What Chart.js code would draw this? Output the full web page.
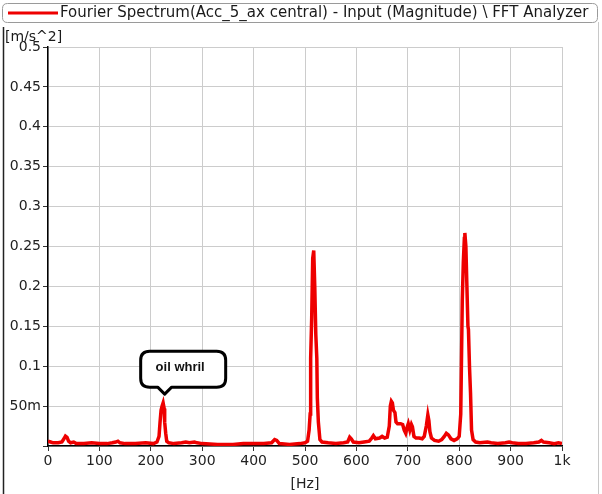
<!DOCTYPE html>
<html>
<head>
<meta charset="utf-8">
<script src="https://cdn.jsdelivr.net/npm/chart.js@4.4.1/dist/chart.umd.min.js"></script>
<style>
  html, body { margin: 0; padding: 0; background: #fff; }
  #wrap { width: 602px; height: 494px; position: relative; }
</style>
</head>
<body>
<div id="wrap"><canvas id="fft"></canvas></div>
<script>
const seriesLabel = "Fourier Spectrum(Acc_5_ax central) - Input (Magnitude) \\ FFT Analyzer";
const xTitle = "[Hz]";
const yTitle = "[m/s^2]";

// frequency [Hz] and magnitude [m/s^2]
const freqs = [
  0, 5, 10, 20, 27, 31, 34, 37, 40, 44, 50, 55, 70, 85, 100, 115, 125, 132, 136, 140,
  150, 170, 190, 205, 212, 216, 218, 220, 222, 224, 226, 227, 229, 231, 235, 245, 260, 268, 275, 285,
  290, 300, 330, 360, 380, 400, 420, 435, 441, 445, 450, 470, 490, 500, 505, 508, 510, 511, 513, 515,
  517, 519, 521, 523, 524, 526, 529, 533, 545, 560, 575, 583, 587, 590, 594, 605, 615, 625, 630, 633,
  637, 645, 650, 655, 660, 664, 666, 668, 670, 672, 675, 677, 680, 686, 690, 693, 696, 699, 701, 704,
  707, 709, 712, 716, 722, 728, 732, 736, 739, 741, 743, 746, 752, 760, 766, 771, 775, 779, 784, 790,
  796, 800, 803, 804, 806, 808, 810, 811, 813, 815, 817, 818, 820, 822, 824, 827, 832, 840, 855, 862,
  875, 890, 897, 903, 915, 930, 945, 955, 960, 964, 975, 985, 993, 1000
];
const amps = [
  0.006, 0.005, 0.004, 0.004, 0.005, 0.009, 0.0125, 0.011, 0.006, 0.004, 0.005, 0.003, 0.003, 0.004, 0.003, 0.003, 0.004, 0.005, 0.006, 0.004,
  0.003, 0.003, 0.004, 0.003, 0.005, 0.012, 0.03, 0.045, 0.05, 0.054, 0.047, 0.03, 0.016, 0.006, 0.004, 0.003, 0.004, 0.005, 0.004, 0.005,
  0.004, 0.003, 0.002, 0.002, 0.003, 0.003, 0.003, 0.004, 0.008, 0.007, 0.003, 0.002, 0.003, 0.004, 0.006, 0.02, 0.04, 0.11, 0.16, 0.235,
  0.245, 0.2, 0.14, 0.11, 0.06, 0.03, 0.008, 0.005, 0.004, 0.003, 0.004, 0.005, 0.011, 0.009, 0.005, 0.004, 0.005, 0.006, 0.01, 0.013,
  0.009, 0.01, 0.012, 0.01, 0.011, 0.025, 0.05, 0.056, 0.054, 0.045, 0.042, 0.03, 0.028, 0.028, 0.027, 0.02, 0.016, 0.024, 0.028, 0.02,
  0.027, 0.024, 0.012, 0.01, 0.01, 0.009, 0.012, 0.025, 0.039, 0.032, 0.018, 0.01, 0.007, 0.006, 0.008, 0.012, 0.016, 0.014, 0.009, 0.007,
  0.009, 0.012, 0.04, 0.087, 0.183, 0.23, 0.26, 0.267, 0.25, 0.2, 0.15, 0.146, 0.1, 0.067, 0.02, 0.008, 0.005, 0.004, 0.005, 0.004,
  0.003, 0.004, 0.005, 0.004, 0.003, 0.003, 0.004, 0.005, 0.007, 0.005, 0.004, 0.003, 0.004, 0.003
];

const xTicks = [0, 100, 200, 300, 400, 500, 600, 700, 800, 900, 1000];
const xTickLabels = ["0", "100", "200", "300", "400", "500", "600", "700", "800", "900", "1k"];
const yTicks = [0, 0.05, 0.1, 0.15, 0.2, 0.25, 0.3, 0.35, 0.4, 0.45, 0.5];
const yTickLabels = ["", "50m", "0.1", "0.15", "0.2", "0.25", "0.3", "0.35", "0.4", "0.45", "0.5"];

// callout: tip in data units
const note = { text: "oil whril", x: 227, y: 0.065 };

const FONT = "'DejaVu Sans', Verdana, sans-serif";
const RED = "#ee0000";

function tickLabel(values, labels, v) {
    const i = values.findIndex((t) => Math.abs(t - v) < 1e-9);
    return i >= 0 ? labels[i] : "";
}

function roundRect(ctx, x, y, w, h, r) {
    ctx.beginPath();
    ctx.moveTo(x + r, y);
    ctx.lineTo(x + w - r, y);
    ctx.quadraticCurveTo(x + w, y, x + w, y + r);
    ctx.lineTo(x + w, y + h - r);
    ctx.quadraticCurveTo(x + w, y + h, x + w - r, y + h);
    ctx.lineTo(x + r, y + h);
    ctx.quadraticCurveTo(x, y + h, x, y + h - r);
    ctx.lineTo(x, y + r);
    ctx.quadraticCurveTo(x, y, x + r, y);
    ctx.closePath();
}

const decorations = {
    id: "decorations",
    afterDraw(chart) {
        const ctx = chart.ctx;
        const xs = chart.scales.x;
        const ys = chart.scales.y;
        ctx.save();

        // outer frame
        ctx.strokeStyle = "#222";
        ctx.lineWidth = 1.5;
        ctx.beginPath();
        ctx.moveTo(3.5, 27);
        ctx.lineTo(3.5, 494);
        ctx.stroke();
        ctx.strokeStyle = "#c8c8c8";
        ctx.lineWidth = 1;
        ctx.beginPath();
        ctx.moveTo(598.5, 22);
        ctx.lineTo(598.5, 494);
        ctx.stroke();

        // legend
        ctx.strokeStyle = "#9a9a9a";
        ctx.lineWidth = 1;
        roundRect(ctx, 2.5, 3.5, 595, 19, 5);
        ctx.fillStyle = "#fff";
        ctx.fill();
        ctx.stroke();
        ctx.strokeStyle = RED;
        ctx.lineWidth = 3;
        ctx.beginPath();
        ctx.moveTo(8, 13);
        ctx.lineTo(58, 13);
        ctx.stroke();
        ctx.fillStyle = "#1a1a1a";
        ctx.font = "15px " + FONT;
        ctx.textBaseline = "middle";
        ctx.textAlign = "left";
        ctx.fillText(seriesLabel, 60, 13.5);

        // y axis unit
        ctx.font = "14px " + FONT;
        ctx.fillText(yTitle, 5, 37);

        // callout
        const tx = xs.getPixelForValue(note.x);
        const ty = ys.getPixelForValue(note.y);
        const bx = tx - 24, by = ty - 43, bw = 85, bh = 36;
        ctx.strokeStyle = "#000";
        ctx.lineWidth = 3;
        ctx.lineJoin = "round";
        ctx.beginPath();
        ctx.moveTo(tx - 7, by + bh);
        ctx.lineTo(bx + 9, by + bh);
        ctx.quadraticCurveTo(bx, by + bh, bx, by + bh - 9);
        ctx.lineTo(bx, by + 9);
        ctx.quadraticCurveTo(bx, by, bx + 9, by);
        ctx.lineTo(bx + bw - 9, by);
        ctx.quadraticCurveTo(bx + bw, by, bx + bw, by + 9);
        ctx.lineTo(bx + bw, by + bh - 9);
        ctx.quadraticCurveTo(bx + bw, by + bh, bx + bw - 9, by + bh);
        ctx.lineTo(tx + 7, by + bh);
        ctx.lineTo(tx, ty);
        ctx.closePath();
        ctx.fillStyle = "#fff";
        ctx.fill();
        ctx.stroke();
        ctx.fillStyle = "#111";
        ctx.font = "bold 13px 'Liberation Sans', Arial, sans-serif";
        ctx.textAlign = "center";
        ctx.fillText(note.text, bx + bw / 2 - 3, by + bh / 2 - 2);

        ctx.restore();
    },
};

new Chart(document.getElementById("fft"), {
    type: "line",
    data: {
        datasets: [
            {
                label: seriesLabel,
                data: freqs.map((f, i) => ({ x: f, y: amps[i] })),
                borderColor: RED,
                backgroundColor: RED,
                borderWidth: 3.5,
                pointRadius: 0,
                tension: 0,
                fill: false,
            },
        ],
    },
    options: {
        responsive: true,
        maintainAspectRatio: false,
        animation: false,
        layout: { padding: { left: 0, right: 40, top: 47, bottom: 0 } },
        plugins: {
            legend: { display: false },
            tooltip: { enabled: false },
        },
        scales: {
            x: {
                type: "linear",
                min: 0,
                max: 1000,
                afterFit: (scale) => { scale.height = 48; },
                afterBuildTicks: (scale) => {
                    scale.ticks = xTicks.map((v) => ({ value: v }));
                },
                grid: {
                    color: "#cccccc",
                    tickColor: "#333",
                    tickLength: 5,
                },
                border: { color: "#000", width: 1.5 },
                ticks: {
                    color: "#222",
                    font: { family: FONT, size: 14 },
                    padding: 2,
                    maxRotation: 0,
                    callback: (v) => tickLabel(xTicks, xTickLabels, v),
                },
                title: {
                    display: true,
                    text: xTitle,
                    color: "#222",
                    font: { family: FONT, size: 14 },
                    padding: { top: 0, bottom: 1 },
                },
            },
            y: {
                min: 0,
                max: 0.5,
                afterFit: (scale) => { scale.width = 48; },
                afterBuildTicks: (scale) => {
                    scale.ticks = yTicks.map((v) => ({ value: v }));
                },
                grid: {
                    color: "#cccccc",
                    tickColor: "#333",
                    tickLength: 5,
                },
                border: { color: "#000", width: 1.5 },
                ticks: {
                    color: "#222",
                    font: { family: FONT, size: 14 },
                    padding: 2,
                    callback: (v) => tickLabel(yTicks, yTickLabels, v),
                },
            },
        },
    },
    plugins: [decorations],
});
</script>
</body>
</html>
